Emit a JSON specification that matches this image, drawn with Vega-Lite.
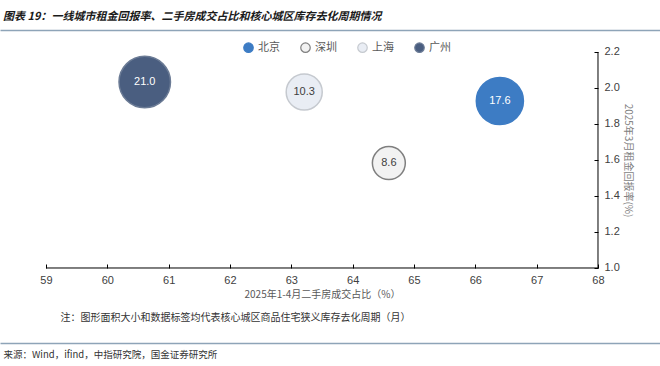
{
  "$schema": "https://vega.github.io/schema/vega-lite/v6.json",
  "width": 660,
  "height": 313,
  "autosize": {"type": "none"},
  "padding": {"left": 0, "top": 30, "right": 0, "bottom": 23},
  "background": "white",
  "title": {
    "text": "图表 19：一线城市租金回报率、二手房成交占比和核心城区库存去化周期情况",
    "anchor": "start", "frame": "group", "dx": 3, "offset": 8,
    "font": "Noto Sans CJK SC", "fontSize": 11, "fontWeight": "bold", "fontStyle": "italic", "color": "#1a1a1a"
  },
  "data": {"values": [
    {"city": "北京", "pct": 66.40, "rent": 1.928, "cycle": 17.6},
    {"city": "深圳", "pct": 64.59, "rent": 1.583, "cycle": 8.6},
    {"city": "上海", "pct": 63.21, "rent": 1.978, "cycle": 10.3},
    {"city": "广州", "pct": 60.61, "rent": 2.033, "cycle": 21.0}
  ]},
  "resolve": {"axis": {"x": "independent", "y": "independent"}},
  "layer": [
    {
      "data": {"values": [{}]},
      "mark": {"type": "rule", "color": "#000000", "strokeWidth": 1},
      "encoding": {
        "x": {"datum": 59, "type": "quantitative", "scale": {"domain": [58.25, 69.011], "nice": false, "zero": false},
          "axis": {"orient": "top", "offset": 0, "domain": true, "domainColor": "#8ea4b8", "domainWidth": 1.5, "ticks": false, "labels": false, "grid": false, "title": null}},
        "x2": {"datum": 68},
        "y": {"datum": 1.0, "type": "quantitative", "scale": {"domain": [0.5833, 2.3222], "nice": false, "zero": false}, "axis": null}
      }
    },
    {
      "data": {"values": [{}]},
      "mark": {"type": "rule", "color": "#000000", "strokeWidth": 1},
      "encoding": {
        "x": {"datum": 68, "type": "quantitative",
          "axis": {"orient": "bottom", "offset": -33, "domain": false, "ticks": false, "labels": false, "grid": false,
            "title": "注：图形面积大小和数据标签均代表核心城区商品住宅狭义库存去化周期（月）",
            "titleX": 60, "titleAlign": "left", "titleAnchor": "start", "titlePadding": 2,
            "titleFont": "Noto Sans CJK SC", "titleFontSize": 10, "titleFontWeight": "normal", "titleColor": "#333333"}},
        "y": {"datum": 1.0, "type": "quantitative", "axis": null},
        "y2": {"datum": 2.2}
      }
    },
    {
      "mark": {"type": "point", "filled": true, "opacity": 1, "strokeWidth": 1.5, "shape": "circle"},
      "encoding": {
        "x": {"field": "pct", "type": "quantitative",
          "axis": {"orient": "bottom", "offset": -75, "values": [59, 60, 61, 62, 63, 64, 65, 66, 67, 68],
            "domain": false, "ticks": true, "tickSize": -4, "tickColor": "#000000", "labelPadding": 10, "labelFlush": false,
            "labelFont": "Liberation Sans", "labelFontSize": 11, "labelColor": "#404040", "grid": false,
            "title": "2025年1-4月二手房成交占比（%）", "titleX": 322, "titlePadding": 4,
            "titleFont": "Noto Sans CJK SC", "titleFontSize": 10, "titleFontWeight": "normal", "titleColor": "#595959"}},
        "y": {"field": "rent", "type": "quantitative",
          "axis": {"orient": "right", "offset": -62, "values": [1.0, 1.2, 1.4, 1.6, 1.8, 2.0, 2.2], "format": ".1f",
            "domain": false, "ticks": true, "tickSize": -4, "tickColor": "#000000", "labelPadding": 10,
            "labelFont": "Liberation Sans", "labelFontSize": 11, "labelColor": "#404040", "grid": false, "labelFlush": false,
            "title": "2025年3月租金回报率(%)", "titleY": 130, "titlePadding": 3,
            "titleFont": "Noto Sans CJK SC", "titleFontSize": 10, "titleFontWeight": "normal", "titleColor": "#7f7f7f"}},
        "size": {"field": "cycle", "type": "quantitative", "scale": {"domain": [0, 21], "range": [0, 2650], "zero": true}, "legend": null},
        "color": {"field": "city", "type": "nominal",
          "scale": {"domain": ["北京", "深圳", "上海", "广州"], "range": ["#3d7cc4", "#f2f2f2", "#e9edf4", "#4a5e80"]},
          "legend": {"orient": "none", "legendX": 243, "legendY": 12, "direction": "horizontal", "title": null,
            "symbolType": "circle", "symbolSize": 90, "symbolStrokeWidth": 1.2, "columnPadding": 18,
            "labelFont": "Noto Sans CJK SC", "labelFontSize": 11, "labelColor": "#595959"}},
        "stroke": {"field": "city", "type": "nominal",
          "scale": {"domain": ["北京", "深圳", "上海", "广州"], "range": ["#3d7cc4", "#7f7f7f", "#c5c9cf", "#6b7b95"]}}
      }
    },
    {
      "mark": {"type": "text", "font": "Liberation Sans", "fontSize": 11},
      "encoding": {
        "x": {"field": "pct", "type": "quantitative",
          "axis": {"orient": "bottom", "offset": 0, "domain": true, "domainColor": "#8ea4b8", "domainWidth": 1.5, "ticks": false, "labels": false, "grid": false,
            "title": "来源：Wind，ifind，中指研究院，国金证券研究所", "titleX": 3, "titleAlign": "left", "titleAnchor": "start", "titlePadding": 6,
            "titleFont": "Noto Sans CJK SC", "titleFontSize": 9.5, "titleFontWeight": "normal", "titleColor": "#333333"}},
        "y": {"field": "rent", "type": "quantitative", "axis": null},
        "text": {"field": "cycle", "type": "quantitative", "format": ".1f"},
        "color": {"condition": {"test": "datum.cycle > 15", "value": "#ffffff"}, "value": "#404040"}
      }
    }
  ],
  "config": {"view": {"stroke": null}}
}
